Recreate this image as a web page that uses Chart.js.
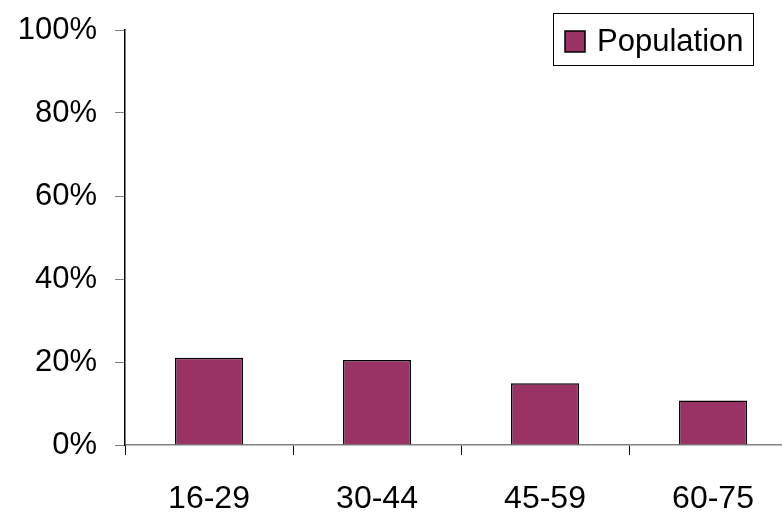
<!DOCTYPE html>
<html>
<head>
<meta charset="utf-8">
<script src="https://cdn.jsdelivr.net/npm/chart.js@4"></script>
<style>
  html, body { margin: 0; padding: 0; background: #fff; overflow: hidden; }
  canvas { display: block; }
</style>
</head>
<body>
<canvas id="chart" width="812" height="514"></canvas>
<script>
// datos
const categorias = ["16-29", "30-44", "45-59", "60-75"];
const poblacion = [21, 20.5, 14.9, 10.7];
const ticksY = [0, 20, 40, 60, 80, 100];

const fuente = "'Liberation Sans', Arial, sans-serif";

// leyenda dibujada a mano (recuadro dentro del área del gráfico)
const leyendaPlugin = {
  id: "leyenda",
  afterDraw(chart) {
    const ctx = chart.ctx;
    const ds = chart.data.datasets[0];
    ctx.save();
    ctx.fillStyle = "#fff";
    ctx.fillRect(553, 13, 201, 53);
    ctx.strokeStyle = "#000";
    ctx.lineWidth = 1;
    ctx.strokeRect(553.5, 13.5, 200, 52);
    ctx.fillStyle = ds.backgroundColor;
    ctx.fillRect(565, 31, 20, 21);
    ctx.lineWidth = 1.5;
    ctx.strokeRect(565, 31, 20, 21);
    ctx.fillStyle = "#000";
    ctx.font = "31px " + fuente;
    ctx.textBaseline = "middle";
    ctx.fillText(ds.label, 597, 42);
    ctx.restore();
  },
};

new Chart(document.getElementById("chart"), {
  type: "bar",
  data: {
    labels: categorias,
    datasets: [
      {
        label: "Population",
        data: poblacion,
        backgroundColor: "#993366",
        borderColor: "#000",
        borderWidth: 1.5,
        categoryPercentage: 1,
        barPercentage: 0.405,
      },
    ],
  },
  options: {
    responsive: false,
    animation: false,
    layout: { padding: { top: 30, right: 15, left: 0, bottom: 0 } },
    plugins: { legend: { display: false }, tooltip: { enabled: false } },
    scales: {
      x: {
        offset: true,
        grid: {
          offset: true,
          drawOnChartArea: false,
          drawTicks: true,
          tickLength: 10,
          color: "#000",
        },
        border: { color: "#808080", width: 1.5 },
        ticks: {
          color: "#000",
          font: { family: fuente, size: 32 },
          padding: 25,
          maxRotation: 0,
        },
        afterFit: (scale) => {
          scale.height = 69;
          scale.paddingLeft = 0;
          scale.paddingRight = 0;
        },
      },
      y: {
        min: 0,
        max: 100,
        afterBuildTicks: (scale) => {
          scale.ticks = ticksY.map((v) => ({ value: v }));
        },
        grid: {
          drawOnChartArea: false,
          drawTicks: true,
          tickLength: 10,
          color: "#808080",
        },
        border: { color: "#000", width: 1.5 },
        ticks: {
          color: "#000",
          font: { family: fuente, size: 31 },
          padding: 18,
          callback: (v) => v + "%",
        },
        afterFit: (scale) => {
          scale.width = 125;
          scale.paddingTop = 0;
          scale.paddingBottom = 0;
        },
      },
    },
  },
  plugins: [leyendaPlugin],
});
</script>
</body>
</html>
